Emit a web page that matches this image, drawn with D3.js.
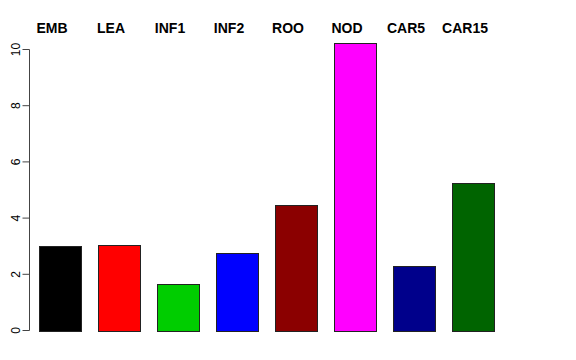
<!DOCTYPE html>
<html>
<head>
<meta charset="utf-8">
<script src="https://cdn.jsdelivr.net/npm/d3@7"></script>
<style>
body { margin: 0; background: #fff; }
svg { display: block; font-family: "Liberation Sans", Arial, sans-serif; }
</style>
</head>
<body>
<svg width="576" height="360"></svg>
<script>
var tissues = ["EMB", "LEA", "INF1", "INF2", "ROO", "NOD", "CAR5", "CAR15"];
var values = [3.0, 3.03, 1.65, 2.76, 4.48, 10.22, 2.3, 5.26];
var colors = ["#000000", "#FF0000", "#00CD00", "#0000FF", "#8B0000", "#FF00FF", "#00008B", "#006400"];
var yTicks = [0, 2, 4, 6, 8, 10];

var width = 576, height = 360;
var svg = d3.select("svg");

// bar positions, 8 bars on a 59px step
var x = d3.scaleBand()
    .domain(tissues)
    .range([30.5, 502.5])
    .paddingInner(0.288)
    .paddingOuter(0.144);

var y = d3.scaleLinear()
    .domain([0, 10])
    .range([330.5, 49.5]);

var g = svg.append("g");

g.selectAll("rect.bar")
    .data(tissues)
    .enter().append("rect")
    .attr("class", "bar")
    .attr("x", function(d) { return Math.round(x(d)) + 0.5; })
    .attr("y", function(d, i) { return Math.round(y(values[i])) + 0.5; })
    .attr("width", Math.round(x.bandwidth()))
    .attr("height", function(d, i) { return Math.round(y(0)) - Math.round(y(values[i])); })
    .style("fill", function(d, i) { return colors[i]; })
    .style("stroke", "#222")
    .style("stroke-width", 1);

// y axis, R style
var yAxis = g.append("g")
    .attr("transform", "translate(29.5,0)");
yAxis.append("line")
    .attr("y1", y(0)).attr("y2", y(10))
    .style("stroke", "#444");
yAxis.selectAll("line.tick")
    .data(yTicks)
    .enter().append("line")
    .attr("class", "tick")
    .attr("x1", -7).attr("x2", 0)
    .attr("y1", function(d) { return y(d); })
    .attr("y2", function(d) { return y(d); })
    .style("stroke", "#444");
yAxis.selectAll("text")
    .data(yTicks)
    .enter().append("text")
    .attr("transform", function(d) { return "translate(-10," + y(d) + ") rotate(-90)"; })
    .attr("text-anchor", "middle")
    .style("font-size", "12px")
    .text(function(d) { return d; });

// tissue names above the plot
g.selectAll("text.name")
    .data(tissues)
    .enter().append("text")
    .attr("class", "name")
    .attr("x", function(d) { return x(d) + x.bandwidth() / 2 - 8; })
    .attr("y", 33)
    .attr("text-anchor", "middle")
    .style("font-size", "14px")
    .style("font-weight", "bold")
    .text(function(d) { return d; });
</script>
</body>
</html>
